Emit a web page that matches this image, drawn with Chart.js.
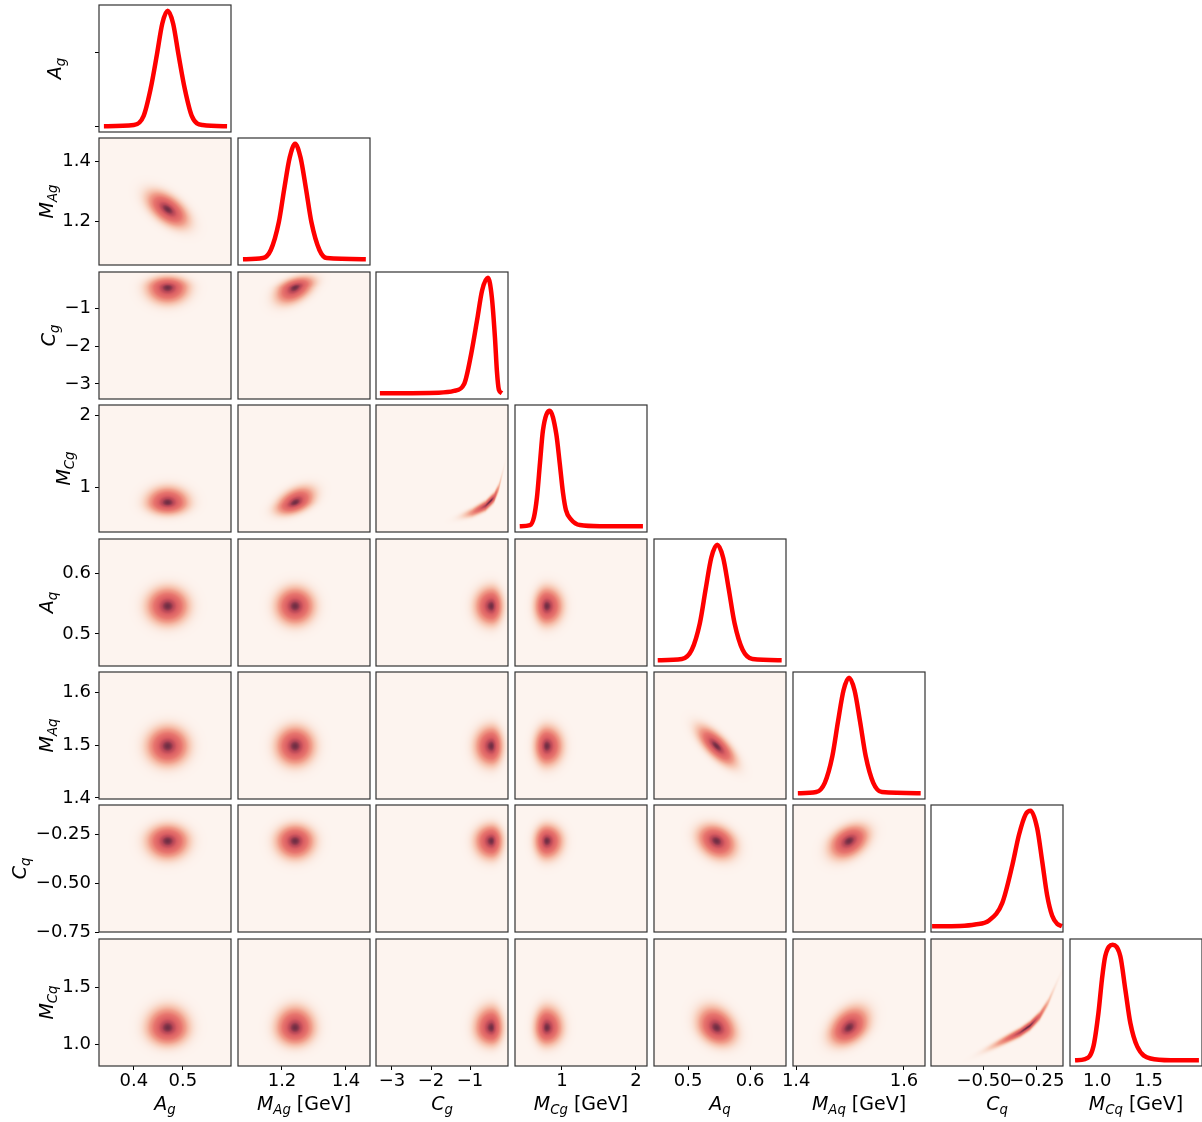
<!DOCTYPE html>
<html>
<head>
<meta charset="utf-8">
<script src="https://cdn.jsdelivr.net/npm/chart.js@4.4.1/dist/chart.umd.min.js"></script>
<style>
html, body { margin: 0; padding: 0; background: #fff; width: 1202px; height: 1122px; overflow: hidden; position: relative; }
canvas { position: absolute; }
</style>
</head>
<body>
<script>
// parameter labels: italic symbol, subscript, unit
const symbols = ['A', 'M', 'C', 'M', 'A', 'M', 'C', 'M'];
const subscripts = ['g', 'Ag', 'g', 'Cg', 'q', 'Aq', 'q', 'Cq'];
const units = ['', ' [GeV]', '', ' [GeV]', '', ' [GeV]', '', ' [GeV]'];

// axis ranges, x per column and y per row
const xMin = [0.329, 1.0625, -3.41, 0.365, 0.445, 1.394, -0.75, 0.735];
const xMax = [0.598, 1.475, -0.026, 2.15, 0.658, 1.639, -0.127, 2.02];
const yMin = [-0.05, 1.057, -3.4, 0.39, 0.447, 1.398, -0.746, 0.81];
const yMax = [1.05, 1.477, -0.04, 2.14, 0.657, 1.638, -0.102, 1.92];

// ticks
const xTicks = [[0.4, 0.5], [1.2, 1.4], [-3, -2, -1], [1, 2], [0.5, 0.6], [1.4, 1.6], [-0.5, -0.25], [1.0, 1.5]];
const xTickLabels = [['0.4', '0.5'], ['1.2', '1.4'], ['−3', '−2', '−1'], ['1', '2'], ['0.5', '0.6'], ['1.4', '1.6'], ['−0.50', '−0.25'], ['1.0', '1.5']];
const yTicks = [[0, 0.635], [1.2, 1.4], [-3, -2, -1], [1, 2], [0.5, 0.6], [1.4, 1.5, 1.6], [-0.75, -0.5, -0.25], [1.0, 1.5]];
const yTickLabels = [['', ''], ['1.2', '1.4'], ['−3', '−2', '−1'], ['1', '2'], ['0.5', '0.6'], ['1.4', '1.5', '1.6'], ['−0.75', '−0.50', '−0.25'], ['1.0', '1.5']];

// 1D marginal curves (diagonal)
const agCurveX = [0.339, 0.40, 0.42, 0.434, 0.447, 0.458, 0.469, 0.480, 0.491, 0.504, 0.518, 0.54, 0.59];
const agCurveY = [0, 0.01, 0.09, 0.32, 0.62, 0.89, 1, 0.89, 0.62, 0.32, 0.09, 0.01, 0];
const magCurveX = [1.078, 1.14, 1.165, 1.19, 1.207, 1.224, 1.241, 1.258, 1.275, 1.292, 1.317, 1.34, 1.462];
const magCurveY = [0, 0.01, 0.08, 0.32, 0.61, 0.88, 1, 0.88, 0.61, 0.32, 0.08, 0.01, 0];
const cgCurveX = [-3.31, -1.8, -1.41, -1.15, -0.97, -0.82, -0.69, -0.54, -0.44, -0.36, -0.31, -0.26, -0.18];
const cgCurveY = [0, 0.005, 0.02, 0.08, 0.34, 0.63, 0.89, 1, 0.83, 0.48, 0.19, 0.03, 0];
const mcgCurveX = [0.429, 0.568, 0.622, 0.662, 0.703, 0.743, 0.834, 0.923, 0.969, 1.014, 1.054, 1.122, 1.243, 1.514, 2.095];
const mcgCurveY = [0, 0.01, 0.08, 0.25, 0.55, 0.83, 1, 0.80, 0.55, 0.29, 0.14, 0.06, 0.01, 0, 0];
const aqCurveX = [0.451, 0.49, 0.506, 0.519, 0.5285, 0.5375, 0.547, 0.5565, 0.5655, 0.575, 0.588, 0.604, 0.651];
const aqCurveY = [0, 0.01, 0.09, 0.32, 0.62, 0.89, 1, 0.89, 0.62, 0.32, 0.09, 0.01, 0];
const maqCurveX = [1.403, 1.437, 1.453, 1.467, 1.4775, 1.4877, 1.498, 1.5083, 1.5185, 1.529, 1.543, 1.559, 1.631];
const maqCurveY = [0, 0.01, 0.09, 0.32, 0.62, 0.89, 1, 0.89, 0.62, 0.32, 0.09, 0.01, 0];
const cqCurveX = [-0.745, -0.613, -0.542, -0.476, -0.414, -0.366, -0.335, -0.303, -0.280, -0.249, -0.225, -0.202, -0.178, -0.154, -0.132];
const cqCurveY = [0, 0.003, 0.015, 0.05, 0.2, 0.53, 0.79, 0.97, 1, 0.85, 0.56, 0.27, 0.09, 0.02, 0];
const mcqCurveX = [0.784, 0.882, 0.963, 1.012, 1.046, 1.078, 1.150, 1.225, 1.274, 1.323, 1.389, 1.519, 1.715, 1.99];
const mcqCurveY = [0, 0.01, 0.12, 0.41, 0.70, 0.90, 1, 0.90, 0.61, 0.32, 0.12, 0.015, 0, 0];

const curvesX = [agCurveX, magCurveX, cgCurveX, mcgCurveX, aqCurveX, maqCurveX, cqCurveX, mcqCurveX];
const curvesY = [agCurveY, magCurveY, cgCurveY, mcgCurveY, aqCurveY, maqCurveY, cqCurveY, mcqCurveY];

// 2D blobs: centre and spread below / above the centre, per parameter
const blobCentre = [0.469, 1.241, -0.45, 0.795, 0.546, 1.498, -0.284, 1.144];
const blobSpreadLow = [0.022, 0.031, 0.22, 0.085, 0.016, 0.019, 0.047, 0.079];
const blobSpreadHigh = [0.022, 0.031, 0.15, 0.11, 0.016, 0.019, 0.042, 0.094];

// correlations [row, col, rho]
const correlations = [[1, 0, -0.55], [2, 1, 0.45], [3, 1, 0.45], [5, 4, -0.72], [6, 4, -0.25], [6, 5, 0.35], [7, 4, -0.25], [7, 5, 0.35]];

// curved ridges (C vs M_C)
const cgRidgeX = [-1.45, -0.94, -0.6, -0.38, -0.26, -0.17];
const mcgRidgeY = [0.566, 0.658, 0.751, 0.866, 1.005, 1.191];
const cqRidgeX = [-0.503, -0.409, -0.330, -0.283, -0.236, -0.197, -0.165];
const mcqRidgeY = [0.941, 1.029, 1.102, 1.162, 1.25, 1.367, 1.5];

const bananas = [
    { row: 3, col: 2, rx: cgRidgeX, ry: mcgRidgeY, centre: -0.47, low: 0.32, high: 0.12, width: 0.036 },
    { row: 7, col: 6, rx: cqRidgeX, ry: mcqRidgeY, centre: -0.29, low: 0.085, high: 0.05, width: 0.021 }
];

const cmapStops = [
    [0.00, 253, 244, 239],
    [0.03, 251, 233, 224],
    [0.10, 248, 208, 190],
    [0.25, 241, 160, 140],
    [0.45, 232, 118, 110],
    [0.70, 218, 94, 98],
    [0.88, 182, 70, 86],
    [1.00, 112, 46, 68]
];

const tickFont = { family: "'DejaVu Sans', sans-serif", size: 18 };

function cmap(p) {
    for (let k = 1; k < cmapStops.length; k++) {
        if (p <= cmapStops[k][0]) {
            const a = cmapStops[k - 1], b = cmapStops[k];
            const t = (p - a[0]) / (b[0] - a[0]);
            return [a[1] + t * (b[1] - a[1]), a[2] + t * (b[2] - a[2]), a[3] + t * (b[3] - a[3])];
        }
    }
    const l = cmapStops[cmapStops.length - 1];
    return [l[1], l[2], l[3]];
}

function splitZ(v, c, lo, hi) {
    const d = v - c;
    return d < 0 ? d / lo : d / hi;
}

function ridgeAt(rx, ry, x) {
    let k = 1;
    while (k < rx.length - 1 && x > rx[k]) k++;
    const t = (x - rx[k - 1]) / (rx[k] - rx[k - 1]);
    return ry[k - 1] + t * (ry[k] - ry[k - 1]);
}

function densityFor(r, c) {
    const b = bananas.find(bb => bb.row === r && bb.col === c);
    if (b) {
        return (x, y) => {
            const zx = splitZ(x, b.centre, b.low, b.high);
            const dy = (y - ridgeAt(b.rx, b.ry, x)) / b.width;
            return Math.exp(-0.5 * (zx * zx + dy * dy));
        };
    }
    const cr = correlations.find(q => q[0] === r && q[1] === c);
    const rho = cr ? cr[2] : 0;
    return (x, y) => {
        const zx = splitZ(x, blobCentre[c], blobSpreadLow[c], blobSpreadHigh[c]);
        const zy = splitZ(y, blobCentre[r], blobSpreadLow[r], blobSpreadHigh[r]);
        const q = (zx * zx - 2 * rho * zx * zy + zy * zy) / (1 - rho * rho);
        return Math.exp(-0.5 * q);
    };
}

function paintDensity(chart, r, c) {
    const a = chart.chartArea, xs = chart.scales.x, ys = chart.scales.y;
    const w = Math.round(a.right - a.left), h = Math.round(a.bottom - a.top);
    const off = document.createElement('canvas');
    off.width = w; off.height = h;
    const octx = off.getContext('2d');
    const img = octx.createImageData(w, h);
    const xv = [], yv = [];
    for (let i = 0; i < w; i++) xv.push(xs.getValueForPixel(a.left + i + 0.5));
    for (let j = 0; j < h; j++) yv.push(ys.getValueForPixel(a.top + j + 0.5));
    const dens = densityFor(r, c);
    for (let j = 0; j < h; j++) {
        for (let i = 0; i < w; i++) {
            const col = cmap(dens(xv[i], yv[j]));
            const o = (j * w + i) * 4;
            img.data[o] = col[0]; img.data[o + 1] = col[1]; img.data[o + 2] = col[2]; img.data[o + 3] = 255;
        }
    }
    octx.putImageData(img, 0, 0);
    chart.ctx.drawImage(off, a.left, a.top);
}

function drawAxisLabel(ctx, k, withUnit, x, y, rotated) {
    const mainF = "italic 19px 'DejaVu Sans'";
    const subF = "italic 13.3px 'DejaVu Sans'";
    const unitF = "19px 'DejaVu Sans'";
    const u = withUnit ? units[k] : '';
    ctx.font = mainF; const w1 = ctx.measureText(symbols[k]).width;
    ctx.font = subF; const w2 = ctx.measureText(subscripts[k]).width;
    ctx.font = unitF; const w3 = u ? ctx.measureText(u).width : 0;
    const total = w1 + w2 + w3;
    ctx.save();
    ctx.translate(x, y);
    if (rotated) ctx.rotate(-Math.PI / 2);
    ctx.fillStyle = '#000';
    ctx.textBaseline = 'alphabetic';
    ctx.textAlign = 'left';
    let cx = -total / 2;
    ctx.font = mainF; ctx.fillText(symbols[k], cx, 0); cx += w1;
    ctx.font = subF; ctx.fillText(subscripts[k], cx, 4); cx += w2;
    if (u) { ctx.font = unitF; ctx.fillText(u, cx, 0); }
    ctx.restore();
}

const cornerPlugin = {
    id: 'corner',
    beforeDatasetsDraw(chart, args, o) {
        if (o.row !== o.col) paintDensity(chart, o.row, o.col);
    },
    afterDraw(chart, args, o) {
        const ctx = chart.ctx, a = chart.chartArea;
        ctx.save();
        ctx.strokeStyle = '#333';
        ctx.lineWidth = 1.2;
        ctx.strokeRect(a.left, a.top, a.right - a.left, a.bottom - a.top);
        if (o.row === 7) {
            drawAxisLabel(ctx, o.col, true, (a.left + a.right) / 2, a.bottom + 44, false);
        }
        if (o.col === 0) {
            ctx.font = "18px 'DejaVu Sans'";
            let maxW = o.row === 0 ? 21 : 0;
            yTickLabels[o.row].forEach(t => { maxW = Math.max(maxW, ctx.measureText(t).width); });
            const x = a.left - 8 - maxW - 9.5;
            drawAxisLabel(ctx, o.row, false, x, (a.top + a.bottom) / 2, true);
        }
        ctx.restore();
    }
};

function makePanel(r, c) {
    const left = Math.round(99 + 138.7 * c), top = Math.round(5 + 133.4 * r);
    const w = 132, h = 127;
    const ml = c === 0 ? 100 : 30, mr = 30, mt = 16, mb = r === 7 ? 58 : 16;
    const cv = document.createElement('canvas');
    cv.width = ml + w + mr;
    cv.height = mt + h + mb;
    cv.style.left = (left - ml) + 'px';
    cv.style.top = (top - mt) + 'px';
    document.body.appendChild(cv);

    const diag = r === c;
    const datasets = diag ? [{
        data: curvesX[c].map((x, i) => ({ x: x, y: curvesY[c][i] })),
        borderColor: '#ff0000',
        borderWidth: 4.5,
        borderCapStyle: 'butt',
        borderJoinStyle: 'round',
        pointRadius: 0,
        fill: false,
        cubicInterpolationMode: 'monotone'
    }] : [];

    // the axis boxes take the margin on their side so their labels are not clipped
    const padLeft = c === 0 ? 0 : ml;
    const padBottom = r === 7 ? 0 : mb;

    new Chart(cv, {
        type: 'line',
        data: { datasets: datasets },
        options: {
            responsive: false,
            animation: false,
            devicePixelRatio: 1,
            events: [],
            layout: { padding: { left: padLeft, right: mr, top: mt, bottom: padBottom } },
            plugins: {
                legend: { display: false },
                tooltip: { enabled: false },
                corner: { row: r, col: c }
            },
            scales: {
                x: {
                    type: 'linear',
                    display: r === 7,
                    position: 'bottom',
                    min: xMin[c],
                    max: xMax[c],
                    afterFit: s => { s.height = r === 7 ? mb : 0; },
                    afterBuildTicks: s => { s.ticks = xTicks[c].map(v => ({ value: v })); },
                    ticks: {
                        autoSkip: false, maxRotation: 0, minRotation: 0, padding: 1,
                        color: '#000', font: tickFont,
                        callback: (v, i) => xTickLabels[c][i]
                    },
                    grid: { drawOnChartArea: false, tickLength: 4, color: c === 7 ? 'rgba(0,0,0,0)' : '#000', lineWidth: 1 },
                    border: { display: false }
                },
                y: {
                    type: 'linear',
                    display: c === 0,
                    min: diag ? -0.05 : yMin[r],
                    max: diag ? 1.05 : yMax[r],
                    afterFit: s => { s.width = c === 0 ? ml : 0; },
                    afterBuildTicks: s => { s.ticks = yTicks[r].map(v => ({ value: v })); },
                    ticks: {
                        autoSkip: false, padding: 4,
                        color: '#000', font: tickFont,
                        callback: (v, i) => yTickLabels[r][i]
                    },
                    grid: { drawOnChartArea: false, tickLength: 4, color: '#000', lineWidth: 1 },
                    border: { display: false }
                }
            }
        },
        plugins: [cornerPlugin]
    });
}

for (let r = 0; r < 8; r++) {
    for (let c = 0; c <= r; c++) makePanel(r, c);
}
</script>
</body>
</html>
